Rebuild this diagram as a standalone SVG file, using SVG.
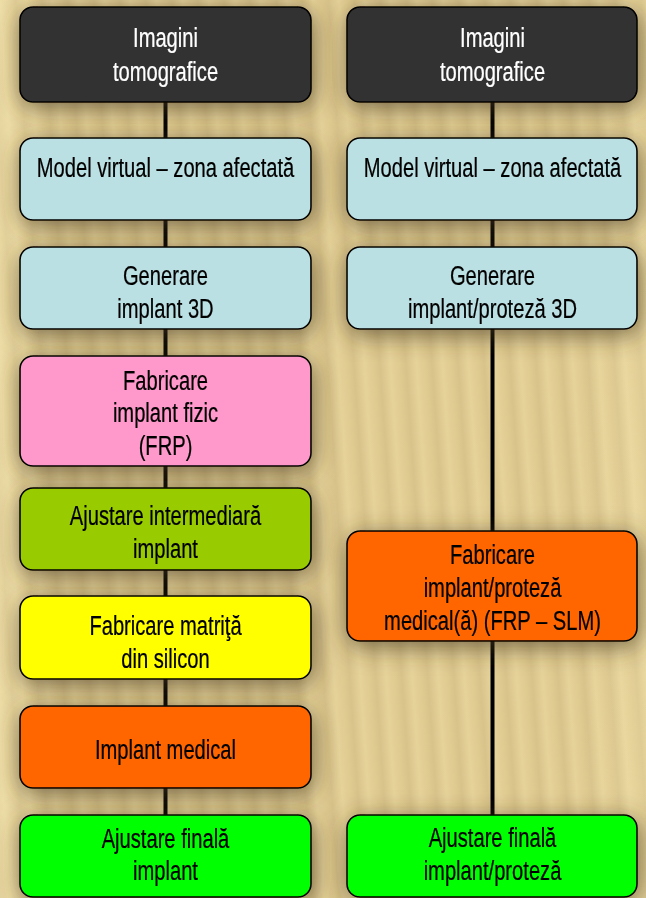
<svg xmlns="http://www.w3.org/2000/svg" width="646" height="898" viewBox="0 0 646 898">
<defs>
<linearGradient id="stripe" x1="0" y1="0" x2="1" y2="0">
<stop offset="0" stop-color="#e6d39a"/>
<stop offset="0.35" stop-color="#dfca90"/>
<stop offset="0.6" stop-color="#d8c38b"/>
<stop offset="1" stop-color="#e6d39a"/>
</linearGradient>
<pattern id="wood" width="26" height="898" patternUnits="userSpaceOnUse" patternTransform="rotate(-4)">
<rect width="26" height="898" fill="url(#stripe)"/>
</pattern>
<linearGradient id="vignette" x1="0" y1="0" x2="1" y2="0">
<stop offset="0" stop-color="#fff3c0" stop-opacity="0.35"/>
<stop offset="0.1" stop-color="#fff3c0" stop-opacity="0"/>
<stop offset="0.9" stop-color="#fff3c0" stop-opacity="0"/>
<stop offset="1" stop-color="#fff3c0" stop-opacity="0.2"/>
</linearGradient>
<filter id="shadow" x="-20%" y="-40%" width="140%" height="180%">
<feGaussianBlur in="SourceAlpha" stdDeviation="12"/>
<feOffset dx="2" dy="5" result="b"/>
<feFlood flood-color="#4a3c22" flood-opacity="0.72"/>
<feComposite in2="b" operator="in"/>
<feMerge><feMergeNode/><feMergeNode in="SourceGraphic"/></feMerge>
</filter>
</defs>
<style>
.box{stroke:#000;stroke-width:1.6}
.t{font-family:"Liberation Sans",Arial,sans-serif;font-size:28px;text-anchor:middle;fill:#000;stroke:#000;stroke-width:0.25}
.w{fill:#fff;stroke:#fff}
.dark{fill:#333333}
.blue{fill:#bbe0e3}
.pink{fill:#ff99cc}
.lime{fill:#99cc00}
.yellow{fill:#ffff00}
.orange{fill:#ff6600}
.green{fill:#00ff00}
.conn{stroke:#000;stroke-width:4;fill:none}
</style>
<rect width="646" height="898" fill="#e3ce92"/>
<rect width="646" height="898" fill="url(#wood)"/>
<rect width="646" height="898" fill="url(#vignette)"/>
<g id="connectors">
<line class="conn" x1="165.5" y1="100" x2="165.5" y2="817"/>
<line class="conn" x1="492.5" y1="100" x2="492.5" y2="817"/>
</g>
<g id="L1" filter="url(#shadow)">
<rect class="box dark" x="20" y="7" width="291" height="95" rx="13"/>
<g transform="translate(165.5,0) scale(0.72,1)"><text class="t w" x="0" y="47">Imagini</text><text class="t w" x="0" y="81">tomografice</text></g>
</g>
<g id="L2" filter="url(#shadow)">
<rect class="box blue" x="20" y="138" width="291" height="82" rx="13"/>
<g transform="translate(165.5,0) scale(0.72,1)"><text class="t" x="0" y="177">Model virtual – zona afectată</text></g>
</g>
<g id="L3" filter="url(#shadow)">
<rect class="box blue" x="20" y="247" width="291" height="82" rx="13"/>
<g transform="translate(165.5,0) scale(0.72,1)"><text class="t" x="0" y="285">Generare</text><text class="t" x="0" y="318">implant 3D</text></g>
</g>
<g id="L4" filter="url(#shadow)">
<rect class="box pink" x="20" y="356" width="291" height="110" rx="13"/>
<g transform="translate(165.5,0) scale(0.72,1)"><text class="t" x="0" y="390">Fabricare</text><text class="t" x="0" y="422">implant fizic</text><text class="t" x="0" y="455">(FRP)</text></g>
</g>
<g id="L5" filter="url(#shadow)">
<rect class="box lime" x="20" y="488" width="291" height="82" rx="13"/>
<g transform="translate(165.5,0) scale(0.72,1)"><text class="t" x="0" y="525">Ajustare intermediară</text><text class="t" x="0" y="558">implant</text></g>
</g>
<g id="L6" filter="url(#shadow)">
<rect class="box yellow" x="20" y="596" width="291" height="83" rx="13"/>
<g transform="translate(165.5,0) scale(0.72,1)"><text class="t" x="0" y="635">Fabricare matriţă</text><text class="t" x="0" y="668">din silicon</text></g>
</g>
<g id="L7" filter="url(#shadow)">
<rect class="box orange" x="20" y="706" width="291" height="82" rx="13"/>
<g transform="translate(165.5,0) scale(0.72,1)"><text class="t" x="0" y="759">Implant medical</text></g>
</g>
<g id="L8" filter="url(#shadow)">
<rect class="box green" x="20" y="815" width="291" height="82" rx="13"/>
<g transform="translate(165.5,0) scale(0.72,1)"><text class="t" x="0" y="848">Ajustare finală</text><text class="t" x="0" y="880">implant</text></g>
</g>
<g id="R1" filter="url(#shadow)">
<rect class="box dark" x="347" y="7" width="290" height="95" rx="13"/>
<g transform="translate(492.5,0) scale(0.72,1)"><text class="t w" x="0" y="47">Imagini</text><text class="t w" x="0" y="81">tomografice</text></g>
</g>
<g id="R2" filter="url(#shadow)">
<rect class="box blue" x="347" y="138" width="290" height="82" rx="13"/>
<g transform="translate(492.5,0) scale(0.72,1)"><text class="t" x="0" y="177">Model virtual – zona afectată</text></g>
</g>
<g id="R3" filter="url(#shadow)">
<rect class="box blue" x="347" y="247" width="290" height="82" rx="13"/>
<g transform="translate(492.5,0) scale(0.72,1)"><text class="t" x="0" y="285">Generare</text><text class="t" x="0" y="318">implant/proteză 3D</text></g>
</g>
<g id="R4" filter="url(#shadow)">
<rect class="box orange" x="347" y="531" width="290" height="110" rx="13"/>
<g transform="translate(492.5,0) scale(0.72,1)"><text class="t" x="0" y="564">Fabricare</text><text class="t" x="0" y="597">implant/proteză</text><text class="t" x="0" y="630">medical(ă) (FRP – SLM)</text></g>
</g>
<g id="R5" filter="url(#shadow)">
<rect class="box green" x="347" y="815" width="290" height="82" rx="13"/>
<g transform="translate(492.5,0) scale(0.72,1)"><text class="t" x="0" y="847">Ajustare finală</text><text class="t" x="0" y="880">implant/proteză</text></g>
</g>
</svg>
